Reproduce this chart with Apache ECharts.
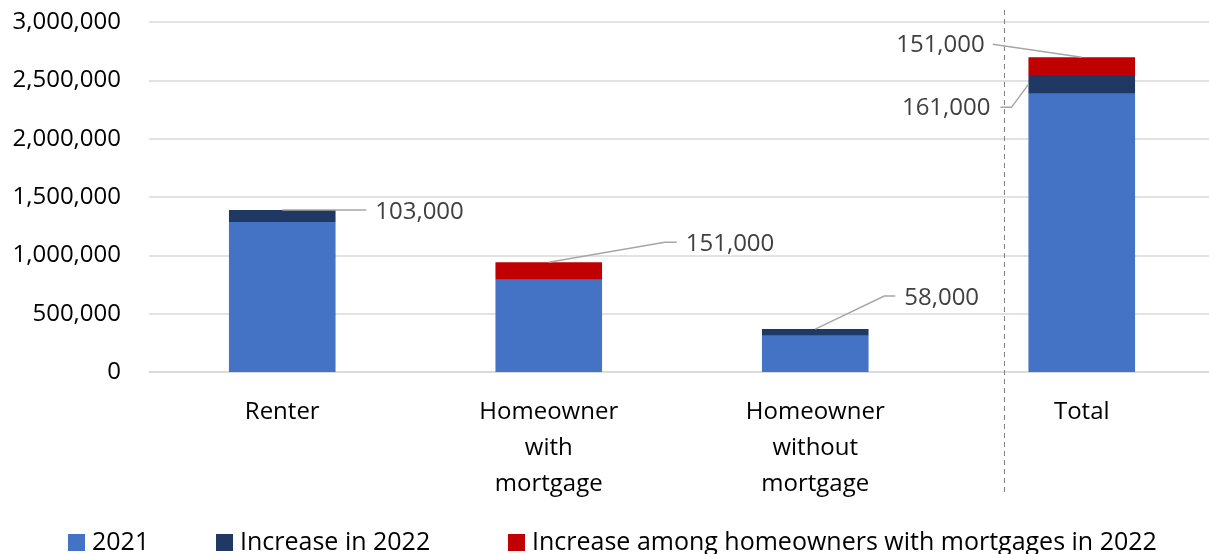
<!DOCTYPE html>
<html><head><meta charset="utf-8">
<script src="https://cdn.jsdelivr.net/npm/echarts@6/dist/echarts.min.js"></script>
<style>html,body{margin:0;padding:0;background:#fff}#c{width:1209px;height:554px}</style>
</head><body><div id="c"></div>
<script>
// ---- data ----
const categories = ['Renter', 'Homeowner with mortgage', 'Homeowner without mortgage', 'Total'];
const seriesNames = ['2021', 'Increase in 2022', 'Increase among homeowners with mortgages in 2022'];
const base2021 = [1285000, 790000, 310000, 2385000];
const increase2022 = [103000, 0, 58000, 161000];
const increaseMortgage = [0, 151000, 0, 151000];
const yMin = 0, yMax = 3000000, yStep = 500000;

// callouts: which segment gets a value label (category index, series index)
const callouts = [
  { cat: 0, series: 1 },
  { cat: 1, series: 2 },
  { cat: 2, series: 1 },
  { cat: 3, series: 2 },
  { cat: 3, series: 1 }
];
// ---- styling of callouts (pixel offsets, not data) ----
const calloutStyle = [
  { anchor: 'top', adx: 0, elbow: [84, 0], end: [84, 0], side: 'right', gap: 9, tdy: 2 },
  { anchor: 'top', adx: 0, elbow: [116, -20], end: [128, -20], side: 'right', gap: 9, tdy: 2 },
  { anchor: 'top', adx: 0, elbow: [69, -33], end: [80, -33], side: 'right', gap: 9, tdy: 2 },
  { anchor: 'top', adx: 0, elbow: [-89, -13], end: [-89, -13], side: 'left', gap: 8, tdy: 1 },
  { anchor: 'leftMid', adx: 0, elbow: [-17, 23], end: [-28, 23], side: 'left', gap: 10, tdy: 1 }
];
const legendLefts = [68, 216, 508];

const FONT = '"Open Sans", "DejaVu Sans", sans-serif';
const colors = ['#4472C4', '#203864', '#C00000'];
const seriesData = [base2021, increase2022, increaseMortgage];
const fmt = v => v.toLocaleString('en-US');

const chart = echarts.init(document.getElementById('c'), null, { renderer: 'canvas' });
chart.setOption({
  animation: false,
  color: colors,
  grid: { left: 149, width: 1066, top: 22, bottom: 182, containLabel: false, outerBoundsMode: 'none' },
  legend: seriesNames.map((n, i) => ({
    data: [n],
    left: legendLefts[i], top: 530, padding: 0,
    itemWidth: 17, itemHeight: 17,
    icon: 'rect',
    selectedMode: false,
    textStyle: { fontFamily: FONT, fontSize: 25, color: '#000', lineHeight: 20, padding: [0, 0, 0, 2] }
  })),
  xAxis: {
    type: 'category', data: categories,
    axisLine: { show: true, lineStyle: { color: '#D9D9D9', width: 1.5 } },
    axisTick: { show: false },
    axisLabel: {
      interval: 0, margin: 22, fontFamily: FONT, fontSize: 24, color: '#000', lineHeight: 36,
      formatter: v => v.split(' ').join('\n')
    }
  },
  yAxis: {
    type: 'value', min: yMin, max: yMax, interval: yStep,
    axisLine: { show: false }, axisTick: { show: false },
    splitLine: { lineStyle: { color: '#D9D9D9', width: 1.5 } },
    axisLabel: { margin: 28, fontFamily: FONT, fontSize: 24, color: '#000', formatter: v => fmt(v) }
  },
  series: seriesNames.map((n, i) => ({
    name: n, type: 'bar', stack: 'all', barWidth: '40%',
    data: seriesData[i], itemStyle: { color: colors[i] }
  }))
});

// ---- annotations computed via the chart's own scales ----
const p0 = chart.convertToPixel({ xAxisIndex: 0 }, categories[0]);
const p1 = chart.convertToPixel({ xAxisIndex: 0 }, categories[1]);
const band = p1 - p0;
const barW = band * 0.4;
const graphics = [];
callouts.forEach((c, k) => {
  const st = calloutStyle[k];
  let cum0 = 0;
  for (let s = 0; s < c.series; s++) cum0 += seriesData[s][c.cat];
  const cum1 = cum0 + seriesData[c.series][c.cat];
  const cx = chart.convertToPixel({ xAxisIndex: 0 }, categories[c.cat]);
  const yTop = chart.convertToPixel({ yAxisIndex: 0 }, cum1);
  const yBot = chart.convertToPixel({ yAxisIndex: 0 }, cum0);
  let ax, ay;
  if (st.anchor === 'top') { ax = cx + st.adx; ay = yTop; }
  else { ax = cx - barW / 2; ay = (yTop + yBot) / 2; }
  const pts = [[ax, ay], [ax + st.elbow[0], ay + st.elbow[1]], [ax + st.end[0], ay + st.end[1]]];
  graphics.push({
    type: 'polyline', silent: true, z: 100,
    shape: { points: pts },
    style: { stroke: '#A6A6A6', lineWidth: 1.5, fill: null }
  });
  const ex = ax + st.end[0], ey = ay + st.end[1];
  graphics.push({
    type: 'text', z: 100, silent: true,
    x: st.side === 'right' ? ex + st.gap : ex - st.gap, y: ey + st.tdy,
    style: {
      text: fmt(seriesData[c.series][c.cat]),
      fontFamily: FONT, fontSize: 24, fill: '#404040',
      align: st.side === 'right' ? 'left' : 'right', verticalAlign: 'middle',
      textAlign: st.side === 'right' ? 'left' : 'right', textVerticalAlign: 'middle'
    }
  });
});
// dashed separator before "Total"
const xTot = chart.convertToPixel({ xAxisIndex: 0 }, categories[3]);
const xSep = xTot - band * 0.29;
const yTopAxis = chart.convertToPixel({ yAxisIndex: 0 }, yMax);
const yZero = chart.convertToPixel({ yAxisIndex: 0 }, yMin);
graphics.push({
  type: 'line', silent: true, z: 90,
  shape: { x1: xSep, y1: yTopAxis - 12, x2: xSep, y2: yZero + 121 },
  style: { stroke: '#7F7F7F', lineWidth: 1, lineDash: [5, 4] }
});
chart.setOption({ graphic: graphics });
</script>
</body></html>
